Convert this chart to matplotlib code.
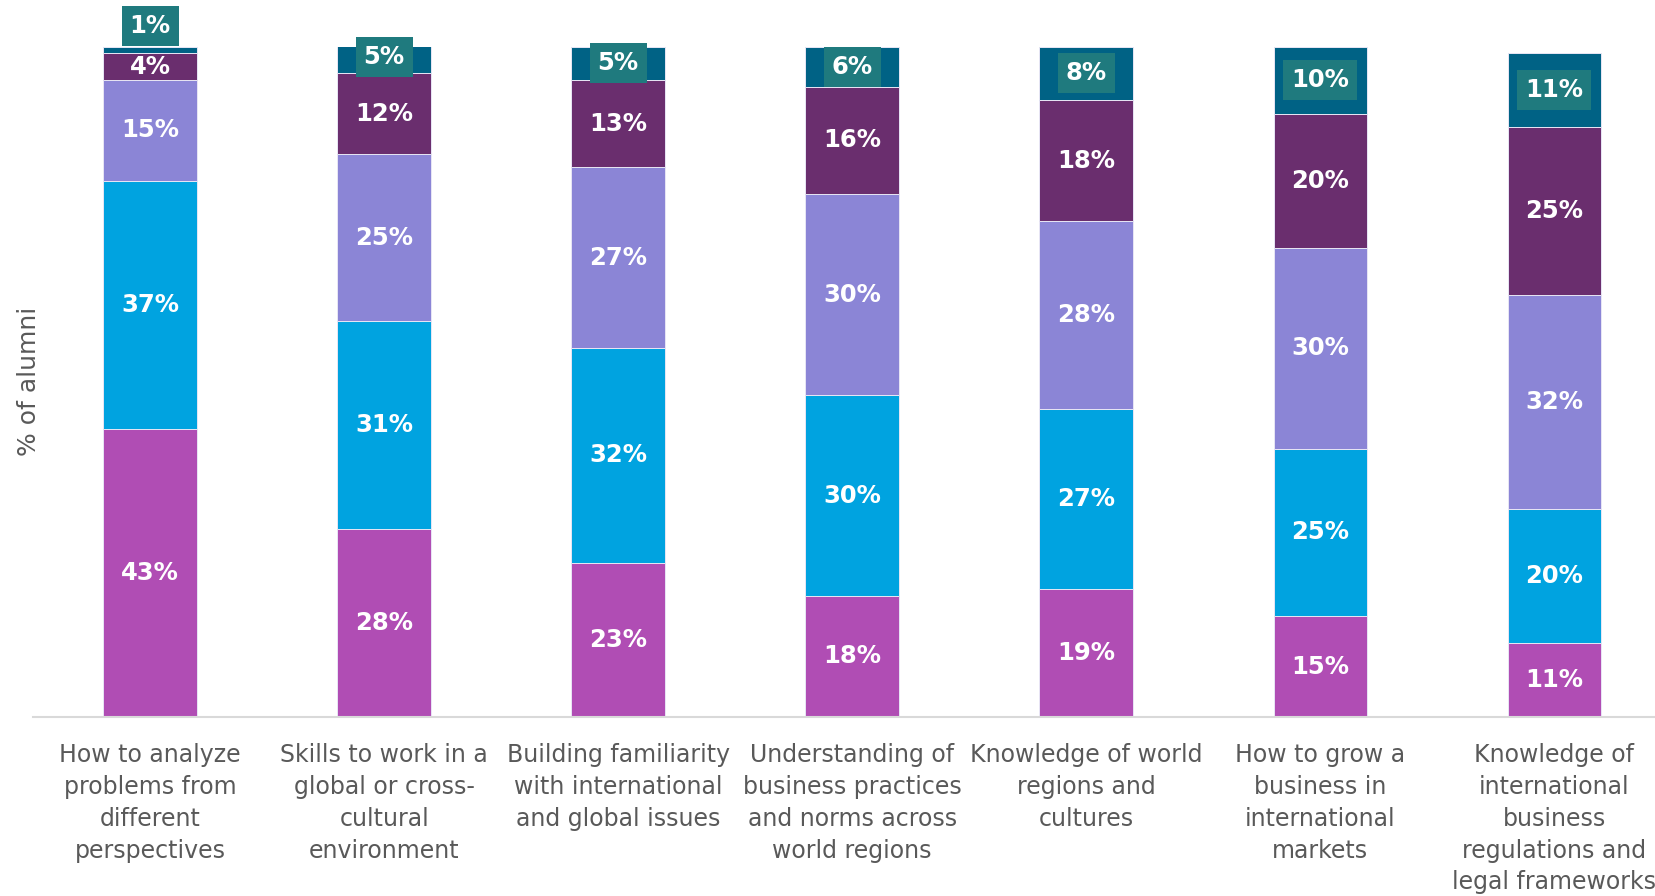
import matplotlib
matplotlib.use('Agg')
import matplotlib.pyplot as plt
import numpy as np

# Категории (подписи по оси X)
categories = [
    'How to analyze\nproblems from\ndifferent\nperspectives',
    'Skills to work in a\nglobal or cross-\ncultural\nenvironment',
    'Building familiarity\nwith international\nand global issues',
    'Understanding of\nbusiness practices\nand norms across\nworld regions',
    'Knowledge of world\nregions and\ncultures',
    'How to grow a\nbusiness in\ninternational\nmarkets',
    'Knowledge of\ninternational\nbusiness\nregulations and\nlegal frameworks',
]

# Доли ответов, снизу вверх
level_1 = [43, 28, 23, 18, 19, 15, 11]
level_2 = [37, 31, 32, 30, 27, 25, 20]
level_3 = [15, 25, 27, 30, 28, 30, 32]
level_4 = [4, 12, 13, 16, 18, 20, 25]
level_5 = [1, 5, 5, 6, 8, 10, 11]

series = [level_1, level_2, level_3, level_4, level_5]
colors = ['#b04db4', '#00a3e0', '#8b85d6', '#6a2e6e', '#006285']
label_box_color = '#1f7a7e'

fig = plt.figure(figsize=(16.55, 8.96), dpi=100)
ax = fig.add_axes([0.02, 0.2, 0.98, 0.748])

x = np.arange(len(categories))
bottom = np.zeros(len(categories))
width = 0.40

for i, (vals, col) in enumerate(zip(series, colors)):
    vals = np.array(vals, dtype=float)
    ax.bar(x, vals, width, bottom=bottom, color=col,
           edgecolor='#e8e6f5', linewidth=0.7)
    for xi, b, v in zip(x, bottom, vals):
        if i == len(series) - 1:
            # верхний сегмент подписывается в цветной плашке
            y = b + v / 2 if v >= 3 else 100 + 3.1
            ax.text(xi, y, f'{int(v)}%', ha='center', va='center',
                    color='white', fontsize=17.5, fontweight='bold',
                    bbox=dict(boxstyle='square,pad=0.33', fc=label_box_color, ec='none'),
                    clip_on=False)
        else:
            ax.text(xi, b + v / 2, f'{int(v)}%', ha='center', va='center',
                    color='white', fontsize=17.5, fontweight='bold')
    bottom += vals

ax.set_ylim(0, 100)
ax.set_xlim(-0.5, 6.43)
ax.set_xticks(x)
ax.set_xticklabels(categories, fontsize=17, color='#595959', linespacing=1.41)
ax.tick_params(axis='x', length=0, pad=19)
ax.set_yticks([])
ax.set_ylabel('% of alumni', fontsize=18, color='#595959')
ax.yaxis.set_label_coords(0.005, 0.5)

for side in ['top', 'right', 'left']:
    ax.spines[side].set_visible(False)
ax.spines['bottom'].set_color('#d9d9d9')
ax.spines['bottom'].set_linewidth(1.5)

plt.savefig('out.png', dpi=100)
plt.close()
